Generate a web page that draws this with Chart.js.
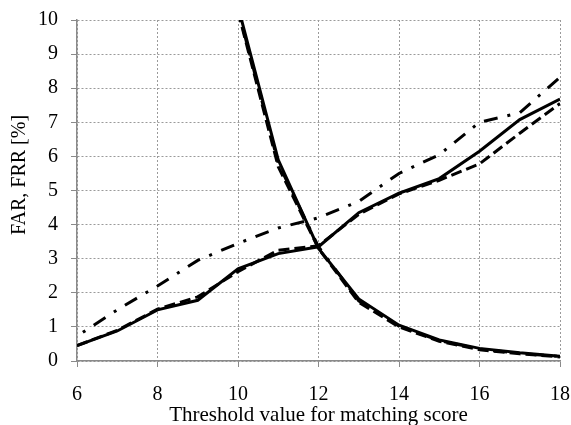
<!DOCTYPE html>
<html lang="en">
<head>
    <meta charset="UTF-8">
    <title>FAR / FRR</title>
    <script src="https://cdn.jsdelivr.net/npm/chart.js@4.4.1/dist/chart.umd.min.js"></script>
    <style>
        html, body { margin: 0; padding: 0; background: #fff; }
        #wrap { width: 571px; height: 425px; }
    </style>
</head>
<body>
<div id="wrap"><canvas id="chart" width="571" height="425"></canvas></div>
<script>
// threshold values on the x axis
const thresholds = [6, 7, 8, 9, 10, 11, 12, 13, 14, 15, 16, 17, 18];

// rising curves (FRR)
const frrSolid   = [0.45, 0.88, 1.5, 1.78, 2.7, 3.15, 3.35, 4.35, 4.92, 5.35, 6.15, 7.08, 7.68];
const frrDashed  = [0.45, 0.9, 1.52, 1.88, 2.62, 3.25, 3.38, 4.3, 4.9, 5.3, 5.78, 6.68, 7.55];
const frrDashDot = [0.73, 1.5, 2.2, 2.95, 3.45, 3.9, 4.2, 4.68, 5.5, 6.05, 7.0, 7.28, 8.32];

// falling curves (FAR), nothing below threshold 10 is in view
const farSolid   = [null, null, null, null, 10.4, 5.9, 3.3, 1.82, 1.05, 0.62, 0.37, 0.24, 0.14];
const farDashed  = [null, null, null, null, 10.25, 5.7, 3.3, 1.72, 1.0, 0.58, 0.33, 0.21, 0.12];
const farDashDot = [null, null, null, null, 10.3, 5.8, 3.35, 1.76, 1.02, 0.6, 0.35, 0.22, 0.13];

const xTicks = [6, 8, 10, 12, 14, 16, 18];
const yTicks = [0, 1, 2, 3, 4, 5, 6, 7, 8, 9, 10];
const yTitle = 'FAR, FRR [%]';

function pts(ys) {
    return thresholds.map((x, i) => ({ x: x, y: ys[i] }));
}

function line(label, ys, dash, offset) {
    return {
        label: label,
        data: pts(ys),
        borderColor: '#000',
        backgroundColor: '#000',
        borderWidth: 3,
        borderDash: dash,
        borderDashOffset: offset || 0,
        pointRadius: 0,
        tension: 0,
        fill: false
    };
}

const font = { family: '"Liberation Serif", "Times New Roman", serif', size: 20 };
const titleFont = { family: font.family, size: 21 };
const gridColor = '#9a9a9a';
const axisColor = '#8a8a8a';

// y title sits a bit above the middle of the axis in the original
const yTitlePlugin = {
    id: 'yTitle',
    afterDraw(chart) {
        const c = chart.ctx;
        c.save();
        c.translate(20, 175);
        c.rotate(-Math.PI / 2);
        c.font = font.size + 'px ' + font.family;
        c.fillStyle = '#000';
        c.textAlign = 'center';
        c.textBaseline = 'middle';
        c.fillText(yTitle, 0, 0);
        c.restore();
    }
};

const ctx = document.getElementById('chart').getContext('2d');
const myChart = new Chart(ctx, {
    type: 'line',
    data: {
        datasets: [
            line('FRR 1', frrSolid, []),
            line('FAR 1', farSolid, []),
            line('FRR 2', frrDashed, [11, 5]),
            line('FAR 2', farDashed, [11, 5]),
            line('FRR 3', frrDashDot, [14, 10, 3, 10], 17),
            line('FAR 3', farDashDot, [14, 10, 3, 10], 17)
        ]
    },
    options: {
        responsive: false,
        animation: false,
        layout: { autoPadding: false, padding: { left: 8, right: 11, top: 20, bottom: 0 } },
        plugins: {
            legend: { display: false },
            tooltip: { enabled: false }
        },
        scales: {
            x: {
                type: 'linear',
                min: 6,
                max: 18,
                afterBuildTicks: (s) => { s.ticks = xTicks.map(v => ({ value: v })); },
                ticks: { color: '#000', font: font, padding: 16, maxRotation: 0 },
                grid: { color: gridColor, lineWidth: 1, tickLength: 6, tickColor: axisColor },
                border: { color: axisColor, width: 1.5, dash: [2, 2] },
                title: {
                    display: true,
                    text: 'Threshold value for matching score',
                    color: '#000',
                    font: titleFont,
                    padding: { top: 0, bottom: -3 }
                },
                afterFit: (s) => {
                    s.height = 64;
                    s.paddingLeft = 0;
                    s.paddingRight = 0;
                }
            },
            y: {
                min: 0,
                max: 10,
                afterBuildTicks: (s) => { s.ticks = yTicks.map(v => ({ value: v })); },
                ticks: { color: '#000', font: font, padding: 13 },
                grid: { color: gridColor, lineWidth: 1, tickLength: 6, tickColor: axisColor },
                border: { color: axisColor, width: 1.5, dash: [2, 2] },
                afterFit: (s) => {
                    s.width = 69;
                    s.paddingTop = 0;
                    s.paddingBottom = 0;
                }
            }
        }
    },
    plugins: [yTitlePlugin]
});
</script>
</body>
</html>
